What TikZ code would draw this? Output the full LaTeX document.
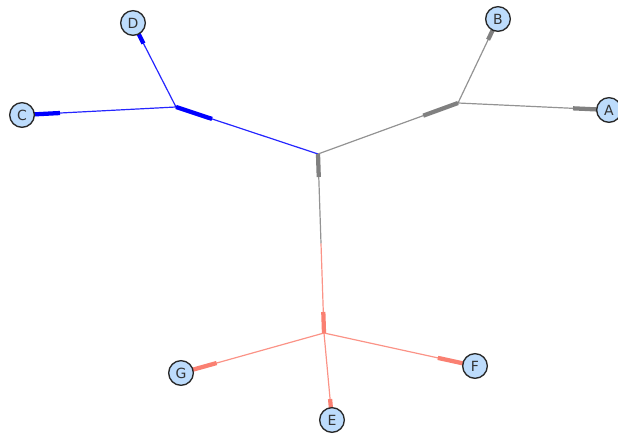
\documentclass[tikz,border=0pt]{standalone}
\usepackage{fontspec}
\setmainfont{DejaVu Sans}
\usetikzlibrary{calc}
\definecolor{nodefill}{RGB}{189,220,252}
\definecolor{nodeedge}{RGB}{40,40,40}
\definecolor{eblue}{RGB}{0,0,255}
\definecolor{egray}{RGB}{128,128,128}
\definecolor{ered}{RGB}{250,128,114}
\pgfdeclarelayer{background}
\pgfsetlayers{background,main}
\tikzset{
  leaf/.style={circle,draw=nodeedge,fill=nodefill,line width=1pt,minimum size=18.5pt,inner sep=0pt,font=\fontsize{10.5}{12}\selectfont,text=black!80},
  thin/.style={line width=0.9pt,draw opacity=0.85},
  fat/.style={line width=3.2pt,line cap=butt}
}
\begin{document}
\begin{tikzpicture}[x=0.75pt,y=-0.75pt]
\useasboundingbox (0,0) rectangle (618,434);
% internal points
\coordinate (R) at (318,154);
\coordinate (P1) at (176,107);
\coordinate (P2) at (458,103);
\coordinate (P3) at (324,333);
\coordinate (M) at ($(R)!0.5!(P3)$);
% leaves
\node[leaf] (A) at (609,110) {A};
\node[leaf] (B) at (498,19) {B};
\node[leaf] (C) at (22,115) {C};
\node[leaf] (D) at (133,23) {D};
\node[leaf] (E) at (332,420) {E};
\node[leaf] (F) at (475,366) {F};
\node[leaf] (G) at (181,373) {G};
\begin{pgfonlayer}{background}
% blue subtree
\draw[thin,eblue] (R) -- (P1);
\draw[fat,eblue] (P1) -- ($(P1)!28.5pt!(R)$);
\draw[thin,eblue] (P1) -- (C.center);
\draw[fat,eblue] ($(C.center)!9pt!(P1)$) -- ($(C.center)!28.5pt!(P1)$);
\draw[thin,eblue] (P1) -- (D.center);
\draw[fat,eblue] ($(D.center)!9pt!(P1)$) -- ($(D.center)!17.25pt!(P1)$);
% gray subtree
\draw[thin,egray] (R) -- (P2);
\draw[fat,egray] (P2) -- ($(P2)!27.75pt!(R)$);
\draw[thin,egray] (P2) -- (B.center);
\draw[fat,egray] ($(B.center)!9pt!(P2)$) -- ($(B.center)!17.25pt!(P2)$);
\draw[thin,egray] (P2) -- (A.center);
\draw[fat,egray] ($(A.center)!9pt!(P2)$) -- ($(A.center)!27pt!(P2)$);
% vertical edge
\draw[thin,egray] (R) -- (M);
\draw[fat,egray] (R) -- ($(R)!17.25pt!(P3)$);
\draw[thin,ered] (M) -- (P3);
\draw[fat,ered] (P3) -- ($(P3)!15.75pt!(R)$);
% red subtree
\draw[thin,ered] (P3) -- (G.center);
\draw[fat,ered] ($(G.center)!9pt!(P3)$) -- ($(G.center)!27.75pt!(P3)$);
\draw[thin,ered] (P3) -- (F.center);
\draw[fat,ered] ($(F.center)!9pt!(P3)$) -- ($(F.center)!28.5pt!(P3)$);
\draw[thin,ered] (P3) -- (E.center);
\draw[fat,ered] ($(E.center)!9pt!(P3)$) -- ($(E.center)!15.75pt!(P3)$);
\end{pgfonlayer}
\end{tikzpicture}
\end{document}
